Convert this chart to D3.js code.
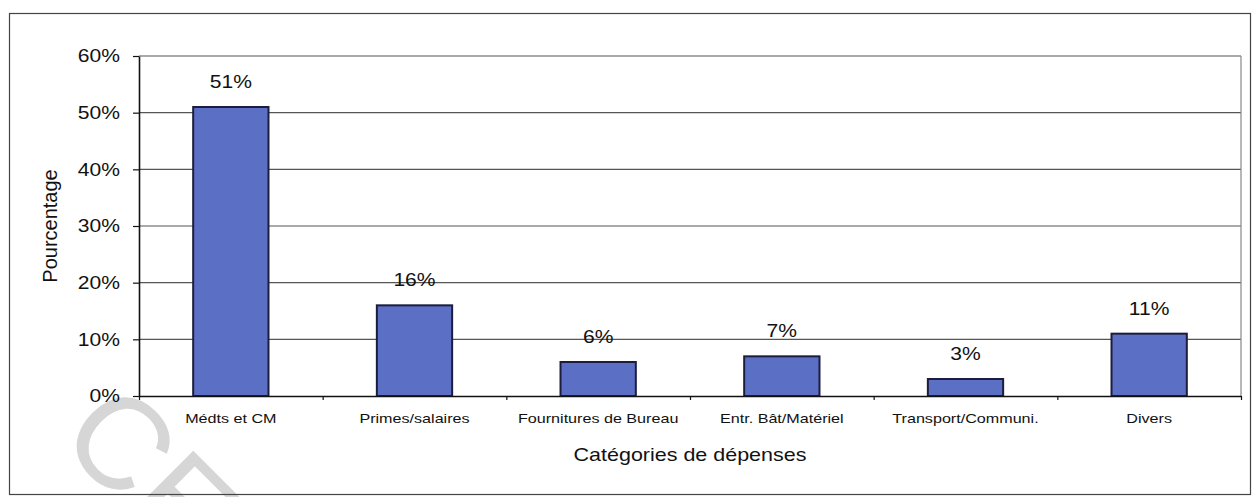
<!DOCTYPE html>
<html>
<head>
<meta charset="utf-8">
<script src="https://cdn.jsdelivr.net/npm/d3@7/dist/d3.min.js"></script>
<style>
  html, body { margin: 0; padding: 0; background: #fff; }
  svg { display: block; }
  text { font-family: "Liberation Sans", Arial, sans-serif; fill: #111; }
</style>
</head>
<body>
<svg id="chart" width="1253" height="497"></svg>
<script>
// Répartition des dépenses par catégorie
const categories = ["Médts et CM", "Primes/salaires", "Fournitures de Bureau", "Entr. Bât/Matériel", "Transport/Communi.", "Divers"];
const shares = [0.51, 0.16, 0.06, 0.07, 0.03, 0.11];
const yTicks = [0, 0.1, 0.2, 0.3, 0.4, 0.5, 0.6];
const xTitle = "Catégories de dépenses";
const yTitle = "Pourcentage";
const stampText = "CE";

const W = 1253, H = 497;
const plot = { left: 139, right: 1241, top: 56, bottom: 396 };
const barColor = "#5b70c5";
const barStroke = "#1c1c3c";
const widen = 1.17;

const svg = d3.select("#chart");

// Widen glyphs horizontally to reproduce the broad typeface
function stretch(sel, k) {
  sel.each(function () {
    const len = this.getComputedTextLength();
    d3.select(this).attr("textLength", len * k).attr("lengthAdjust", "spacingAndGlyphs");
  });
}

// Background
svg.append("rect").attr("width", W).attr("height", H).attr("fill", "#fff");

// Faint stamp lettering in the lower left corner
svg.append("text")
  .attr("transform", "translate(56,440) rotate(45)")
  .style("font-size", "130px")
  .style("fill", "#d6d6d6")
  .text(stampText);

// Chart frame
svg.append("rect")
  .attr("x", 9.5).attr("y", 13.5)
  .attr("width", 1241).attr("height", 481)
  .attr("fill", "none").attr("stroke", "#444").attr("stroke-width", 1.2);

const y = d3.scaleLinear().domain([0, 0.6]).range([plot.bottom, plot.top]);
const x = d3.scaleBand().domain(categories).range([plot.left, plot.right])
  .paddingInner(0.59).paddingOuter(0.295);
const edges = d3.scaleLinear().domain([0, categories.length]).range([plot.left, plot.right]);

// Horizontal gridlines
svg.append("g").selectAll("line")
  .data(yTicks.filter(d => d > 0))
  .join("line")
  .attr("x1", plot.left).attr("x2", plot.right)
  .attr("y1", d => y(d)).attr("y2", d => y(d))
  .attr("stroke", "#555").attr("stroke-width", 1.2);

// Right border of the plot area
svg.append("line")
  .attr("x1", plot.right).attr("x2", plot.right)
  .attr("y1", plot.top).attr("y2", plot.bottom)
  .attr("stroke", "#888").attr("stroke-width", 1.2);

// Bars
svg.append("g").selectAll("rect")
  .data(categories)
  .join("rect")
  .attr("x", d => x(d))
  .attr("y", (d, i) => y(shares[i]))
  .attr("width", x.bandwidth())
  .attr("height", (d, i) => y(0) - y(shares[i]))
  .attr("fill", barColor)
  .attr("stroke", barStroke)
  .attr("stroke-width", 2);

// Value labels
svg.append("g").selectAll("text")
  .data(categories)
  .join("text")
  .attr("x", d => x(d) + x.bandwidth() / 2)
  .attr("y", (d, i) => y(shares[i]) - 19)
  .attr("text-anchor", "middle")
  .style("font-size", "18px")
  .text((d, i) => d3.format(".0%")(shares[i]))
  .call(stretch, widen);

// Y axis
const yAxis = svg.append("g")
  .attr("transform", `translate(${plot.left},0)`)
  .call(d3.axisLeft(y).tickValues(yTicks).tickFormat(d3.format(".0%")).tickSizeInner(6).tickSizeOuter(0).tickPadding(13));
yAxis.select(".domain").attr("stroke", "#111").attr("stroke-width", 1.6);
yAxis.selectAll(".tick line").attr("stroke", "#111").attr("stroke-width", 1.2);
yAxis.selectAll(".tick text").style("font-size", "18px").attr("fill", "#111").call(stretch, widen);

// X axis line with tick marks at category boundaries
const xAxis = svg.append("g")
  .attr("transform", `translate(0,${plot.bottom})`)
  .call(d3.axisBottom(edges).ticks(categories.length).tickFormat("").tickSizeInner(4).tickSizeOuter(0));
xAxis.select(".domain").attr("stroke", "#111").attr("stroke-width", 1.6);
xAxis.selectAll(".tick line").attr("stroke", "#111").attr("stroke-width", 1.2);

// Category labels
svg.append("g").selectAll("text")
  .data(categories)
  .join("text")
  .attr("x", d => x(d) + x.bandwidth() / 2)
  .attr("y", plot.bottom + 27)
  .attr("text-anchor", "middle")
  .style("font-size", "13px")
  .text(d => d)
  .call(stretch, 1.24);

// Axis titles
svg.append("text")
  .attr("x", (plot.left + plot.right) / 2)
  .attr("y", 461)
  .attr("text-anchor", "middle")
  .style("font-size", "19px")
  .text(xTitle)
  .call(stretch, 1.13);

svg.append("text")
  .attr("transform", `translate(57,${(plot.top + plot.bottom) / 2}) rotate(-90)`)
  .attr("text-anchor", "middle")
  .style("font-size", "20px")
  .text(yTitle);
</script>
</body>
</html>
